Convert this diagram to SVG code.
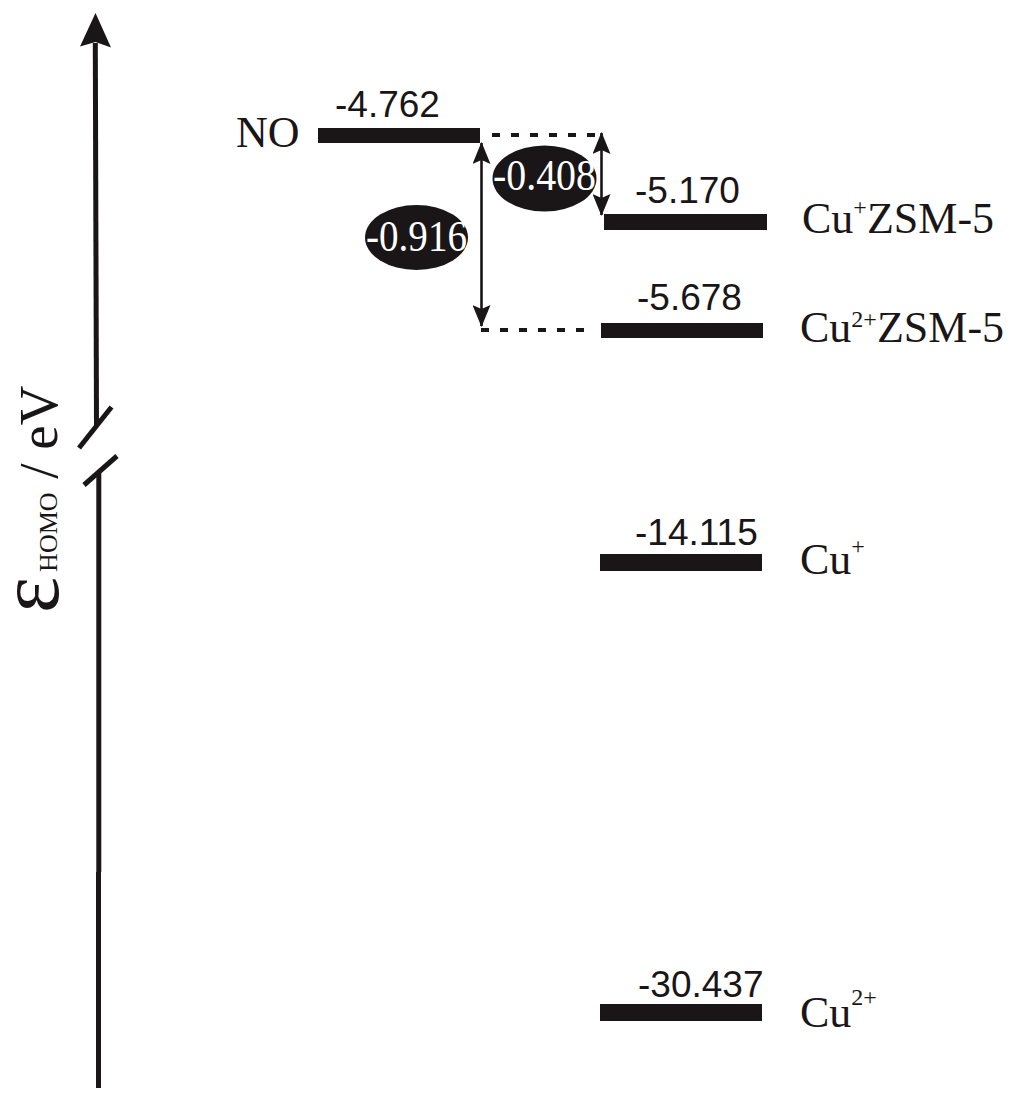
<svg xmlns="http://www.w3.org/2000/svg" width="1024" height="1100" viewBox="0 0 1024 1100">
<style>
.bar{fill:#1a1617}
.val{font-family:"Liberation Sans",Arial,sans-serif;font-size:37px;fill:#1a1617}
.lab{font-family:"Liberation Serif","Times New Roman",serif;font-size:44px;fill:#1a1617}
.sup{font-size:24px}
.oval{fill:#1a1617}
.ovt{font-size:44px;fill:#fff}
.dash{stroke:#1a1617;stroke-width:4;stroke-dasharray:8 11;fill:none}
.darr{stroke:#1a1617;stroke-width:2.6;fill:none;marker-start:url(#ah);marker-end:url(#ah)}
.ax{stroke:#1a1617;stroke-width:5;fill:none}
</style>
<defs>
<marker id="ah" markerUnits="userSpaceOnUse" markerWidth="22" markerHeight="18" refX="21" refY="9" orient="auto-start-reverse" viewBox="0 0 22 18">
<path d="M0,0 L22,9 L0,18 L4,9 Z" fill="#1a1617"/>
</marker>
</defs>
<rect width="1024" height="1100" fill="#fff"/>
<g id="axis">
<polygon points="95.5,13 80,46.5 95.5,42 111,47.5" fill="#1a1617"/>
<line class="ax" x1="95.3" y1="43" x2="96.5" y2="426"/>
<line class="ax" x1="79" y1="448" x2="111.5" y2="407" stroke-width="4.5"/>
<line class="ax" x1="84" y1="485" x2="117" y2="456" stroke-width="4.5"/>
<line class="ax" x1="98.8" y1="472" x2="98.8" y2="872"/>
<line class="ax" x1="98.5" y1="872" x2="98.5" y2="1088" stroke-width="6"/>
<text transform="rotate(-90)" font-family="'Liberation Serif','Times New Roman',serif" fill="#1a1617"><tspan x="-613" y="58" font-size="86">ε</tspan><tspan y="57" font-size="26" dx="5">HOMO</tspan><tspan y="57" font-size="55"> / eV</tspan></text>
</g>
<g id="connectors">
<line class="dash" x1="492" y1="135" x2="600" y2="135"/>
<line class="dash" x1="481" y1="330" x2="590" y2="330"/>
<line class="darr" x1="481.5" y1="143" x2="481.5" y2="326"/>
<line class="darr" x1="601.5" y1="133" x2="601.5" y2="215"/>
</g>
<g id="level-NO">
<rect class="bar" x="318" y="128" width="162" height="15"/>
<text class="val" x="335" y="117">-4.762</text>
<text class="lab" x="236" y="147" font-size="42">NO</text>
</g>
<g id="level-CuZSM5">
<rect class="bar" x="604" y="214" width="163" height="16"/>
<text class="val" x="635" y="203">-5.170</text>
<text class="lab" x="802" y="233">Cu<tspan class="sup" y="215">+</tspan><tspan y="233">ZSM-5</tspan></text>
</g>
<g id="level-Cu2ZSM5">
<rect class="bar" x="601" y="323" width="162" height="15"/>
<text class="val" x="637" y="310">-5.678</text>
<text class="lab" x="800" y="342">Cu<tspan class="sup" y="327">2+</tspan><tspan y="342">ZSM-5</tspan></text>
</g>
<g id="level-Cu">
<rect class="bar" x="600" y="554" width="162" height="17"/>
<text class="val" x="635" y="545">-14.115</text>
<text class="lab" x="800" y="574">Cu<tspan class="sup" y="554">+</tspan></text>
</g>
<g id="level-Cu2">
<rect class="bar" x="600" y="1004" width="162" height="17"/>
<text class="val" x="638" y="997">-30.437</text>
<text class="lab" x="800" y="1027">Cu<tspan class="sup" y="1005">2+</tspan></text>
</g>
<g id="gap-0916">
<ellipse class="oval" cx="416.5" cy="237.5" rx="51.5" ry="32.5"/>
<text class="ovt" x="366" y="251" font-family="'Liberation Serif','Times New Roman',serif" textLength="101" lengthAdjust="spacingAndGlyphs">-0.916</text>
</g>
<g id="gap-0408">
<ellipse class="oval" cx="544.5" cy="178.5" rx="52" ry="33"/>
<text class="ovt" x="493" y="190" font-family="'Liberation Serif','Times New Roman',serif" textLength="103" lengthAdjust="spacingAndGlyphs">-0.408</text>
</g>
</svg>
